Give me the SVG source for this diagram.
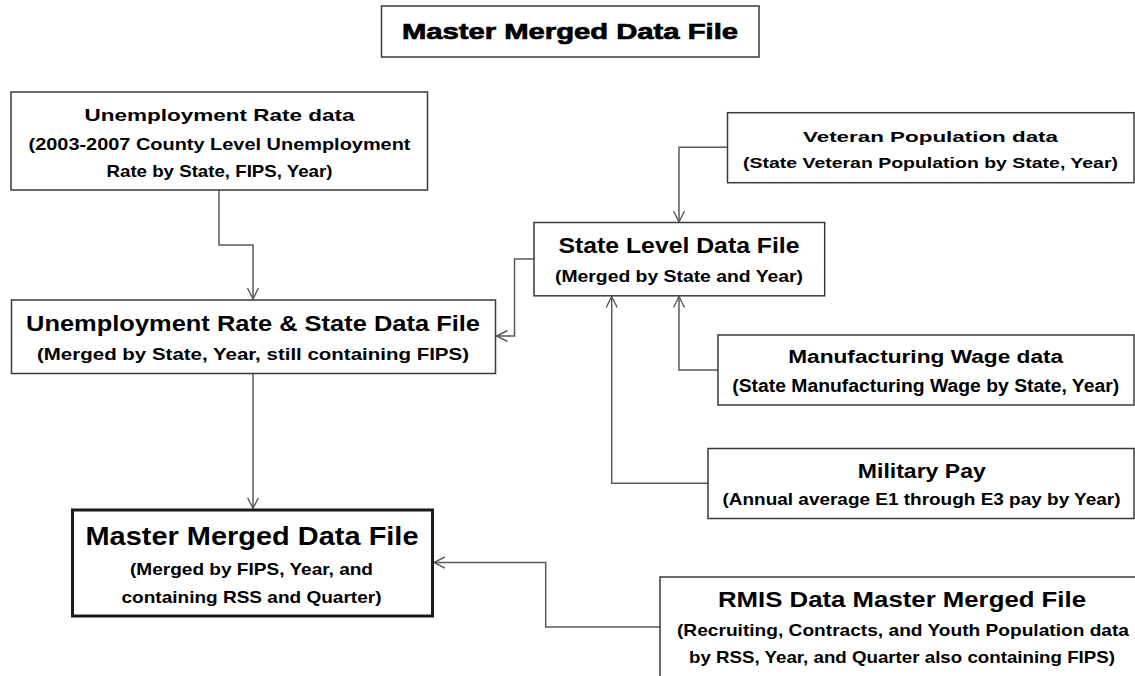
<svg xmlns="http://www.w3.org/2000/svg" width="1135" height="676" viewBox="0 0 1135 676">
<defs>
<style>
.box{fill:#ffffff;stroke:#3a3a3a;stroke-width:1.5}
.thick{fill:#ffffff;stroke:#1a1a1a;stroke-width:3}
.conn{fill:none;stroke:#5a5a5a;stroke-width:1.5}
text{font-family:"Liberation Sans",Arial,sans-serif;font-weight:bold;fill:#000000;text-anchor:middle}
.heavy{stroke:#000000;stroke-width:0.7}
</style>
<marker id="arr" markerUnits="userSpaceOnUse" markerWidth="14" markerHeight="14" refX="11" refY="6" orient="auto">
<path d="M0,0.5 L11,6 L0,11.5" fill="none" stroke="#5a5a5a" stroke-width="1.4"/>
</marker>
</defs>
<rect width="1135" height="676" fill="#ffffff"/>

<g id="connectors">
<path class="conn" d="M219,190 V245 H253 V299" marker-end="url(#arr)"/>
<path class="conn" d="M727.5,147.3 H679 V222" marker-end="url(#arr)"/>
<path class="conn" d="M534,259 H514.5 V336 H496.5" marker-end="url(#arr)"/>
<path class="conn" d="M718,370 H679 V296.5" marker-end="url(#arr)"/>
<path class="conn" d="M708,483.3 H611.7 V296.5" marker-end="url(#arr)"/>
<path class="conn" d="M253,373.5 V508.5" marker-end="url(#arr)"/>
<path class="conn" d="M660,627 H545.7 V562.5 H434" marker-end="url(#arr)"/>
</g>

<g id="title">
<rect class="box" x="381.5" y="6" width="377.5" height="51"/>
<text class="heavy" x="570" y="39" font-size="22" textLength="336" lengthAdjust="spacingAndGlyphs">Master Merged Data File</text>
</g>

<g id="unemployment-rate">
<rect class="box" x="11" y="92" width="416.5" height="98"/>
<text x="219.5" y="121" font-size="17" textLength="270" lengthAdjust="spacingAndGlyphs">Unemployment Rate data</text>
<text x="219.5" y="150" font-size="17" textLength="382" lengthAdjust="spacingAndGlyphs">(2003-2007 County Level Unemployment</text>
<text x="219.5" y="177" font-size="17" textLength="226" lengthAdjust="spacingAndGlyphs">Rate by State, FIPS, Year)</text>
</g>

<g id="unemployment-state">
<rect class="box" x="11.5" y="300" width="484" height="73.5"/>
<text x="253" y="330.5" font-size="21.5" textLength="454" lengthAdjust="spacingAndGlyphs">Unemployment Rate &amp; State Data File</text>
<text x="253" y="360" font-size="17" textLength="432" lengthAdjust="spacingAndGlyphs">(Merged by State, Year, still containing FIPS)</text>
</g>

<g id="state-level">
<rect class="box" x="534" y="222.5" width="290.7" height="73.3"/>
<text x="679" y="253" font-size="22.5" textLength="241" lengthAdjust="spacingAndGlyphs">State Level Data File</text>
<text x="679" y="282" font-size="17" textLength="248" lengthAdjust="spacingAndGlyphs">(Merged by State and Year)</text>
</g>

<g id="veteran">
<rect class="box" x="727.5" y="112.7" width="406.5" height="70"/>
<text x="930.5" y="141.7" font-size="15.5" textLength="255" lengthAdjust="spacingAndGlyphs">Veteran Population data</text>
<text x="930.5" y="168.3" font-size="15.5" textLength="375" lengthAdjust="spacingAndGlyphs">(State Veteran Population by State, Year)</text>
</g>

<g id="manufacturing">
<rect class="box" x="718" y="335" width="416" height="70"/>
<text x="925.7" y="363.3" font-size="17.5" textLength="275" lengthAdjust="spacingAndGlyphs">Manufacturing Wage data</text>
<text x="925.7" y="391.7" font-size="17.5" textLength="387" lengthAdjust="spacingAndGlyphs">(State Manufacturing Wage by State, Year)</text>
</g>

<g id="military">
<rect class="box" x="708" y="448.5" width="426" height="70"/>
<text x="921.8" y="478" font-size="20.5" textLength="128" lengthAdjust="spacingAndGlyphs">Military Pay</text>
<text x="921.5" y="505" font-size="17" textLength="398" lengthAdjust="spacingAndGlyphs">(Annual average E1 through E3 pay by Year)</text>
</g>

<g id="master">
<rect class="thick" x="72.5" y="510" width="360" height="106"/>
<text x="252" y="545" font-size="25.5" textLength="333" lengthAdjust="spacingAndGlyphs">Master Merged Data File</text>
<text x="251.5" y="575" font-size="17" textLength="243" lengthAdjust="spacingAndGlyphs">(Merged by FIPS, Year, and</text>
<text x="251.5" y="603" font-size="17" textLength="260" lengthAdjust="spacingAndGlyphs">containing RSS and Quarter)</text>
</g>

<g id="rmis">
<rect class="box" x="660" y="577" width="490" height="110"/>
<text x="902" y="607" font-size="21.5" textLength="368" lengthAdjust="spacingAndGlyphs">RMIS Data Master Merged File</text>
<text x="903" y="636" font-size="17" textLength="452" lengthAdjust="spacingAndGlyphs">(Recruiting, Contracts, and Youth Population data</text>
<text x="902" y="663" font-size="17" textLength="426" lengthAdjust="spacingAndGlyphs">by RSS, Year, and Quarter also containing FIPS)</text>
</g>
</svg>
